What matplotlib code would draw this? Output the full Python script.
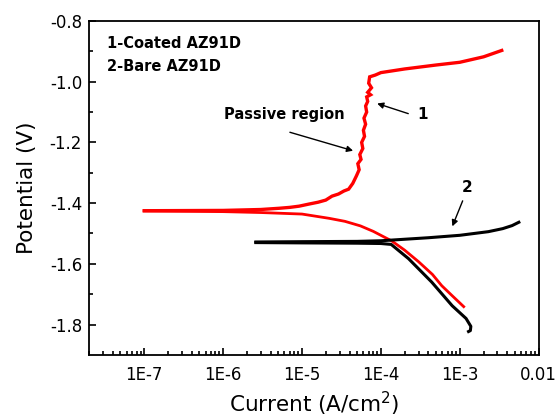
import numpy as np
import matplotlib
matplotlib.use("Agg")
import matplotlib.pyplot as plt
from matplotlib.ticker import LogLocator, FixedLocator, FuncFormatter

plt.rcParams["font.family"] = ["DejaVu Sans"]

# ── data ─────────────────────────────────────────────────────────────────────
# coated AZ91D, anodic branch (with the jagged passive region)
red_an_i = [1e-7, 1e-6, 3e-6, 5.1e-6, 7e-6, 9.2e-6, 1.23e-5, 1.6e-5, 2e-5, 2.4e-5,
            2.9e-5, 3.4e-5, 3.9e-5, 4.4e-5, 4.9e-5, 5.3e-5, 5.1e-5, 5.6e-5, 5.4e-5,
            5.9e-5, 5.7e-5, 6.2e-5, 6.0e-5, 6.4e-5, 6.1e-5, 6.6e-5, 6.4e-5, 6.8e-5,
            6.6e-5, 7.4e-5, 6.8e-5, 7.6e-5, 7.0e-5, 7.2e-5, 8.5e-5, 1e-4, 2e-4,
            5e-4, 1e-3, 2e-3, 3.4e-3]
red_an_E = [-1.425, -1.424, -1.421, -1.417, -1.414, -1.41, -1.403, -1.397, -1.39,
            -1.377, -1.37, -1.36, -1.354, -1.335, -1.31, -1.29, -1.27, -1.256,
            -1.24, -1.22, -1.2, -1.18, -1.16, -1.14, -1.12, -1.1, -1.08, -1.065,
            -1.05, -1.043, -1.035, -1.02, -1.005, -0.984, -0.978, -0.97, -0.958,
            -0.945, -0.936, -0.918, -0.897]
# coated AZ91D, cathodic branch
red_ca_i = [1e-7, 1e-6, 3e-6, 1e-5, 2.2e-5, 3.5e-5, 5.5e-5, 8e-5, 1.38e-4, 2e-4,
            3e-4, 4.5e-4, 5.9e-4, 8e-4, 1.12e-3]
red_ca_E = [-1.426, -1.428, -1.431, -1.436, -1.45, -1.46, -1.475, -1.493, -1.525,
            -1.555, -1.593, -1.635, -1.672, -1.705, -1.741]
# bare AZ91D, anodic branch
blk_an_i = [2.6e-6, 1e-5, 5e-5, 1e-4, 2e-4, 4e-4, 1e-3, 2.3e-3, 3.5e-3, 4.6e-3, 5.6e-3]
blk_an_E = [-1.528, -1.527, -1.526, -1.524, -1.519, -1.514, -1.506, -1.494, -1.484,
            -1.474, -1.463]
# bare AZ91D, cathodic branch
blk_ca_i = [2.6e-6, 1e-5, 5e-5, 1e-4, 1.35e-4, 2.24e-4, 4.4e-4, 8e-4, 1.2e-3,
            1.38e-3, 1.36e-3, 1.29e-3]
blk_ca_E = [-1.53, -1.531, -1.532, -1.533, -1.536, -1.583, -1.66, -1.738, -1.78,
            -1.806, -1.82, -1.823]

x_ticks = [1e-7, 1e-6, 1e-5, 1e-4, 1e-3, 1e-2]
x_labels = ["1E-7", "1E-6", "1E-5", "1E-4", "1E-3", "0.01"]

# ── figure ───────────────────────────────────────────────────────────────────
fig = plt.figure(figsize=(5.6, 4.2), dpi=100)
ax = fig.add_axes([0.159, 0.155, 0.803, 0.795])

ax.plot(red_an_i, red_an_E, color="red", lw=2.4, solid_joinstyle="miter")
ax.plot(red_ca_i, red_ca_E, color="red", lw=2.0)
ax.plot(blk_an_i, blk_an_E, color="black", lw=2.2)
ax.plot(blk_ca_i, blk_ca_E, color="black", lw=2.2)

ax.set_xscale("log")
ax.set_xlim(2e-8, 1e-2)
ax.set_ylim(-1.9, -0.8)

ax.xaxis.set_major_locator(FixedLocator(x_ticks))
ax.xaxis.set_major_formatter(FuncFormatter(lambda v, p: dict(zip(x_ticks, x_labels)).get(v, "")))
ax.xaxis.set_minor_locator(LogLocator(base=10, subs=np.arange(2, 10), numticks=20))
ax.set_yticks([-0.8, -1.0, -1.2, -1.4, -1.6, -1.8])
ax.set_yticklabels(["-0.8", "-1.0", "-1.2", "-1.4", "-1.6", "-1.8"])
ax.set_yticks([-0.9, -1.1, -1.3, -1.5, -1.7], minor=True)

ax.tick_params(which="both", direction="in", top=False, right=False, labelsize=12, width=1.2)
ax.tick_params(which="major", length=5)
ax.tick_params(which="minor", length=3)
ax.tick_params(axis="x", pad=8)
ax.tick_params(axis="y", pad=5)
for s in ax.spines.values():
    s.set_linewidth(1.3)

ax.set_xlabel("Current (A/cm$^2$)", fontsize=15.5)
ax.set_ylabel("Potential (V)", fontsize=15.5, labelpad=9)

ax.text(0.04, 0.934, "1-Coated AZ91D", transform=ax.transAxes, fontsize=10.5,
        fontweight="bold", va="center")
ax.text(0.04, 0.865, "2-Bare AZ91D", transform=ax.transAxes, fontsize=10.5,
        fontweight="bold", va="center")

arrow = dict(arrowstyle="-|>", color="black", lw=1.0, mutation_scale=9)
ax.text(6.0e-6, -1.108, "Passive region", fontsize=10.5, fontweight="bold",
        ha="center", va="center")
ax.annotate("", xy=(4.8e-5, -1.23), xytext=(6.5e-6, -1.164), arrowprops=arrow)
ax.text(3.4e-4, -1.108, "1", fontsize=11, fontweight="bold", ha="center", va="center")
ax.annotate("", xy=(8.3e-5, -1.069), xytext=(2.4e-4, -1.108), arrowprops=arrow)
ax.text(1.23e-3, -1.347, "2", fontsize=11, fontweight="bold", ha="center", va="center")
ax.annotate("", xy=(7.8e-4, -1.485), xytext=(1.12e-3, -1.384), arrowprops=arrow)

fig.savefig("out.png", dpi=100)
